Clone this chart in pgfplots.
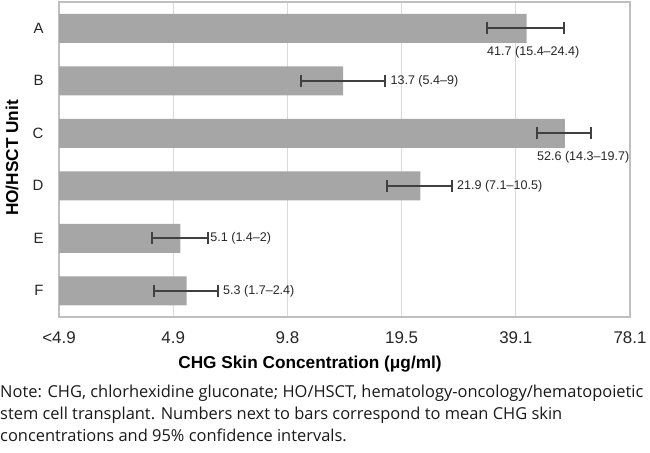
\documentclass[border=0pt]{standalone}
\usepackage{fontspec}
\setmainfont{Liberation Sans}
\newfontfamily\notefont{Open Sans}
\usepackage{pgfplots}
\usepackage{pgfplotstable}
\pgfplotsset{compat=1.18}

\definecolor{bargray}{HTML}{A6A6A6}
\definecolor{errgray}{HTML}{404040}
\definecolor{gridgray}{HTML}{D9D9D9}
\definecolor{framegray}{HTML}{BFBFBF}
\definecolor{ticktext}{HTML}{262626}

% unit position, mean CHG concentration (ug/ml), whisker below / above the mean
\pgfplotstableread{
pos mean em   ep
1   41.7 8.9  10.6
2   13.7 3.1  4.0
3   52.6 8.2  9.0
4   21.9 4.0  4.6
5   5.1  0.81 0.93
6   5.3  0.95 1.11
}\chgdata

\begin{document}
\begin{tikzpicture}
\begin{axis}[
  scale only axis, width=571bp, height=315bp,
  xmode=log, log basis x=2, log origin=infty,
  xmin=2.44140625, xmax=78.125,
  xtick={2.44140625,4.8828125,9.765625,19.53125,39.0625,78.125},
  xticklabels={{<4.9},{4.9},{9.8},{19.5},{39.1},{78.1}},
  xmajorgrids, grid style={draw=gridgray, line width=1bp},
  ymin=0.5, ymax=6.5, y dir=reverse,
  ytick={1,2,3,4,5,6}, yticklabels={A,B,C,D,E,F},
  major tick length=0pt, minor tick num=0,
  axis line style={draw=framegray, line width=1.2bp},
  xticklabel style={font=\fontsize{17}{20}\selectfont, text=ticktext, anchor=base, yshift=-26bp},
  yticklabel style={font=\fontsize{15}{18}\selectfont, text=ticktext, anchor=east, xshift=-12bp},
  clip=false,
]
\addplot[xbar, bar width=29bp, fill=bargray, draw=none,
  error bars/.cd, x dir=both, x explicit,
  error bar style={line width=1.8bp, draw=errgray},
  error mark options={rotate=90, line width=1.8bp, draw=errgray, mark size=6bp}]
  table[x=mean, y=pos, x error plus=ep, x error minus=em] {\chgdata};

% value labels: mean (95% CI)
\begin{scope}[font=\fontsize{12.6}{15}\selectfont, text=ticktext, inner sep=0pt]
\node[anchor=north west] at (axis cs:32.8,1.34) {41.7 (15.4--24.4)};
\node[anchor=west] at ([xshift=5bp]axis cs:17.7,2) {13.7 (5.4--9)};
\node[anchor=north west] at (axis cs:44.4,3.34) {52.6 (14.3--19.7)};
\node[anchor=west] at ([xshift=5bp]axis cs:26.5,4) {21.9 (7.1--10.5)};
\node[anchor=west] at ([xshift=5bp]axis cs:5.93,5) {5.1 (1.4--2)};
\node[anchor=west] at ([xshift=5bp]axis cs:6.41,6) {5.3 (1.7--2.4)};
\end{scope}
\end{axis}

% axis titles
\node[anchor=base, font=\bfseries\fontsize{17.3}{20}\selectfont] at (251bp,-51bp)
  {CHG Skin Concentration (μg/ml)};
\node[rotate=90, font=\bfseries\fontsize{17.3}{20}\selectfont] at (-47bp,159bp)
  {HO/HSCT Unit};

% footnote
\begin{scope}[font=\notefont\fontsize{16.5}{19}\selectfont, inner sep=0pt, color=black!90]
\node[anchor=base west] at (-59bp,-80bp) {Note: CHG, chlorhexidine gluconate; HO/HSCT, hematology-oncology/hematopoietic};
\node[anchor=base west] at (-59bp,-102bp) {stem cell transplant. Numbers next to bars correspond to mean CHG skin};
\node[anchor=base west] at (-59bp,-124bp) {concentrations and 95\% confidence intervals.};
\end{scope}

\pgfresetboundingbox
\path[use as bounding box] (-59bp,-136bp) rectangle (591bp,317bp);
\end{tikzpicture}
\end{document}
